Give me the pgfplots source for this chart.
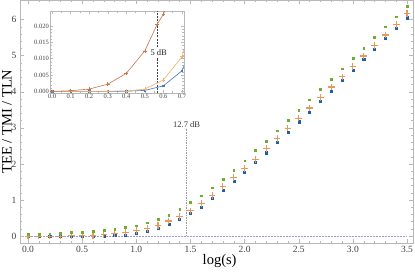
\documentclass[border=0pt]{standalone}
\usepackage{fontspec}
\setmainfont{Liberation Serif}
\usepackage{pgfplots}
\pgfplotsset{compat=1.18}
\definecolor{cgreen}{HTML}{6EAE2E}
\definecolor{corange}{HTML}{E59A5C}
\definecolor{cblue}{HTML}{1A5FA8}
\definecolor{ibrown}{HTML}{C8764E}
\definecolor{iorange}{HTML}{F5B06A}
\definecolor{iblue}{HTML}{3A78C0}
\definecolor{cpurple}{HTML}{9A9AE0}
\definecolor{frame}{HTML}{B8B8B8}
\begin{document}
\begin{tikzpicture}[x=1pt,y=1pt]
\path[use as bounding box] (-20,-28) rectangle (395,243);
\begin{axis}[at={(0,0)}, anchor=south west, scale only axis,
  width=393pt, height=243pt,
  xmin=-0.074, xmax=3.555, ymin=-0.19, ymax=6.54,
  axis line style={draw=frame},
  every tick/.style={draw=frame},
  tick align=inside,
  major tick length=4pt, minor tick length=2.4pt,
  xtick={0,0.5,1,1.5,2,2.5,3,3.5}, minor x tick num=4,
  ytick={0,1,2,3,4,5,6}, minor y tick num=4,
  /pgf/number format/assume math mode=true,
  xticklabel style={/pgf/number format/fixed,/pgf/number format/fixed zerofill,/pgf/number format/precision=1, font=\fontsize{9.5}{10}\selectfont, text=black!75},
  yticklabel style={font=\fontsize{9.5}{10}\selectfont, text=black!75},
  xlabel={log(s)}, ylabel={TEE / TMI / TLN},
  xlabel style={at={(axis description cs:0.508,-0.076)}, anchor=center, font=\fontsize{14.5}{17}\selectfont},
  ylabel style={at={(axis description cs:-0.033,0.5)}, anchor=center, font=\fontsize{14.5}{17}\selectfont},
]
\addplot[cpurple, dash pattern=on 1.5pt off 1.5pt, line width=0.6pt] coordinates {(0,0)(3.5,0)};
\addplot[gray!80, dash pattern=on 1.5pt off 1pt, line width=0.6pt] coordinates {(1.465,0)(1.465,2.98)};
\node[font=\fontsize{8.5}{9}\selectfont, text=black!80] at (axis cs:1.465,3.10) {12.7 dB};
\addplot[only marks, mark=square*, mark size=1.05pt, cblue, mark options={draw=none, fill=cblue}] coordinates {
(0,0)(0.1,0)(0.2,0)(0.3,0)(0.4,0.0001)(0.5,0.0003)(0.6,0.0017)(0.7,0.0063)(0.8,0.015)(0.9,0.035)
(1.0,0.09)(1.1,0.14)(1.2,0.23)(1.3,0.32)(1.4,0.46)(1.5,0.63)(1.6,0.81)(1.7,1.04)(1.8,1.26)(1.9,1.51)
(2.0,1.77)(2.1,2.04)(2.2,2.31)(2.3,2.59)(2.4,2.87)(2.5,3.17)(2.6,3.44)(2.7,3.73)(2.8,4.02)(2.9,4.31)
(3.0,4.60)(3.1,4.89)(3.2,5.18)(3.3,5.47)(3.4,5.76)(3.5,6.05)};
\addplot[only marks, mark=+, mark size=3.3pt, corange, mark options={line width=1.1pt}] coordinates {
(0,0)(0.1,0.0002)(0.2,0.0007)(0.3,0.0022)(0.4,0.0055)(0.5,0.0124)(0.6,0.0236)(0.7,0.045)(0.8,0.07)(0.9,0.10)
(1.0,0.15)(1.1,0.21)(1.2,0.29)(1.3,0.42)(1.4,0.54)(1.5,0.70)(1.6,0.91)(1.7,1.12)(1.8,1.37)(1.9,1.62)
(2.0,1.87)(2.1,2.13)(2.2,2.42)(2.3,2.70)(2.4,2.99)(2.5,3.27)(2.6,3.55)(2.7,3.84)(2.8,4.13)(2.9,4.41)
(3.0,4.70)(3.1,4.99)(3.2,5.28)(3.3,5.57)(3.4,5.86)(3.5,6.16)};
\addplot[only marks, mark=square*, mark size=0.9pt, cgreen, mark options={draw=none, fill=cgreen}] coordinates {
(0,0.05)(0.1,0.06)(0.2,0.07)(0.3,0.08)(0.4,0.10)(0.5,0.12)(0.6,0.14)(0.7,0.17)(0.8,0.20)(0.9,0.24)
(1.0,0.29)(1.1,0.37)(1.2,0.46)(1.3,0.58)(1.4,0.74)(1.5,0.93)(1.6,1.12)(1.7,1.34)(1.8,1.58)(1.9,1.83)
(2.0,2.09)(2.1,2.37)(2.2,2.64)(2.3,2.92)(2.4,3.20)(2.5,3.49)(2.6,3.78)(2.7,4.06)(2.8,4.35)(2.9,4.64)
(3.0,4.93)(3.1,5.21)(3.2,5.50)(3.3,5.80)(3.4,6.08)(3.5,6.37)};
\end{axis}
\begin{axis}[at={(30pt,150pt)}, anchor=south west, scale only axis,
  width=134pt, height=82pt,
  xmin=-0.011, xmax=0.711, ymin=-0.0005, ymax=0.0246,
  axis background/.style={fill=white},
  axis line style={draw=frame},
  every tick/.style={draw=frame},
  tick align=inside,
  major tick length=3pt, minor tick length=1.8pt,
  scaled x ticks=false, scaled y ticks=false,
  xtick={0,0.1,0.2,0.3,0.4,0.5,0.6,0.7}, minor x tick num=1,
  ytick={0,0.005,0.01,0.015,0.02}, minor y tick num=4,
  /pgf/number format/assume math mode=true,
  xticklabel style={/pgf/number format/fixed,/pgf/number format/fixed zerofill,/pgf/number format/precision=1, font=\fontsize{6.5}{7}\selectfont, text=black!75, inner sep=1pt},
  yticklabel style={/pgf/number format/fixed,/pgf/number format/fixed zerofill,/pgf/number format/precision=3, font=\fontsize{6.5}{7}\selectfont, text=black!75, inner sep=1pt},
]
\addplot[black!75, dash pattern=on 2pt off 1.2pt, line width=0.5pt] coordinates {(0.567,-0.0005)(0.567,0.0103)};
\addplot[black!75, dash pattern=on 2pt off 1.2pt, line width=0.5pt] coordinates {(0.567,0.0136)(0.567,0.0246)};
\node[inner sep=0.8pt, font=\fontsize{8.5}{9}\selectfont, text=black!85] at (axis cs:0.575,0.0119) {5 dB};
\addplot[iblue, line width=0.6pt, mark=square*, mark size=0.8pt, mark options={fill=iblue}] coordinates {
(0,0)(0.1,0)(0.2,0)(0.3,0)(0.4,0.00005)(0.5,0.0003)(0.6,0.0017)(0.7,0.0063)(0.8,0.02)};
\addplot[iorange, line width=0.6pt, mark=+, mark size=1.6pt] coordinates {
(0,0)(0.1,0)(0.2,0)(0.3,0.00005)(0.4,0.0001)(0.5,0.0007)(0.6,0.0035)(0.7,0.0106)(0.8,0.031)};
\addplot[ibrown, line width=0.6pt, mark=+, mark size=1.8pt] coordinates {
(0,0)(0.1,0.0002)(0.2,0.0007)(0.3,0.0022)(0.4,0.0055)(0.5,0.0124)(0.567,0.0206)(0.6,0.0236)(0.7,0.038)};
\end{axis}
\end{tikzpicture}
\end{document}
